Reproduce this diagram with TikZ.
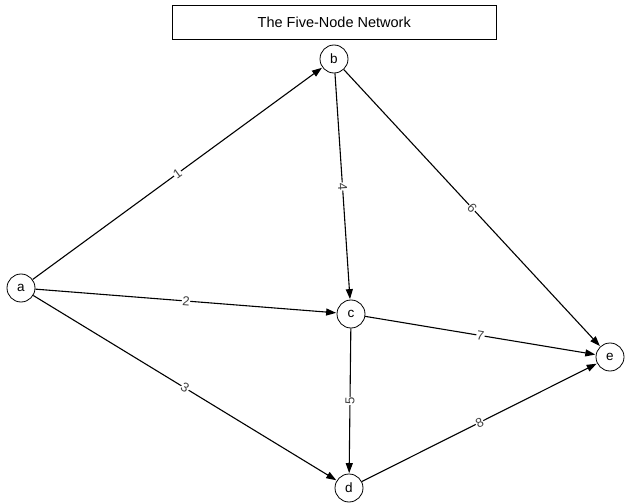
\documentclass[tikz,border=0pt]{standalone}
\usepackage{fontspec}
\setmainfont{Liberation Sans}
\usetikzlibrary{arrows.meta}
\begin{document}
\begin{tikzpicture}[x=1pt,y=-1pt,
  vtx/.style={circle,draw=black,line width=0.8pt,fill=white,minimum size=28pt,inner sep=0pt,font=\fontsize{13.5}{15}\selectfont},
  edge/.style={line width=1.1pt,draw=black,-{Triangle[length=10pt,width=7pt]},shorten >=0.5pt},
  elabel/.style={sloped,midway,fill=white,inner sep=0.5pt,text=black!75,font=\fontsize{13}{14}\selectfont}]
\useasboundingbox (0,0) rectangle (625,503);
\node[draw=black,line width=0.6pt,minimum width=324pt,minimum height=34pt,inner sep=0pt,anchor=north west,font=\fontsize{14.5}{16}\selectfont] (title) at (172,5) {The Five-Node Network};
\node[vtx] (a) at (21,288) {a};
\node[vtx] (b) at (334,59) {b};
\node[vtx] (c) at (351,314) {c};
\node[vtx] (d) at (349,488) {d};
\node[vtx] (e) at (610,357) {e};
\draw[edge] (a) -- node[elabel] {1} (b);
\draw[edge] (a) -- node[elabel] {2} (c);
\draw[edge] (a) -- node[elabel] {3} (d);
\draw[edge] (b) -- node[elabel] {4} (c);
\draw[edge] (c) -- node[elabel] {5} (d);
\draw[edge] (b) -- node[elabel] {6} (e);
\draw[edge] (c) -- node[elabel] {7} (e);
\draw[edge] (d) -- node[elabel] {8} (e);
\end{tikzpicture}
\end{document}
